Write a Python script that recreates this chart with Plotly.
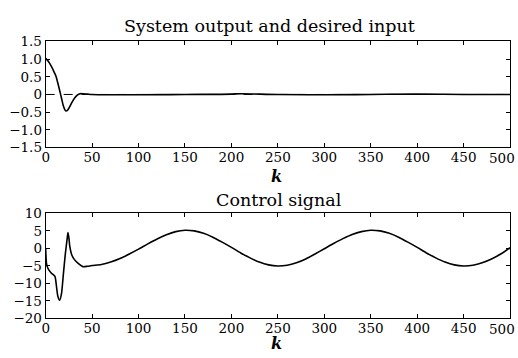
import plotly.graph_objects as go

# ---- data ----
k_out = [0, 3, 6, 9, 11, 13, 15, 17, 19, 21, 22, 24, 26, 28, 31, 34, 37, 40, 45, 50,
         100, 150, 200, 210, 250, 300, 350, 400, 450, 500]
y_out = [1.02, 0.93, 0.80, 0.64, 0.52, 0.33, 0.12, -0.10, -0.32, -0.45, -0.47, -0.43, -0.34,
         -0.24, -0.11, -0.02, 0.02, 0.02, 0.01, 0.0,
         -0.01, 0.0, 0.01, 0.02, 0.0, -0.01, 0.0, 0.01, 0.0, 0.0]

k_ref = [0, 500]
y_ref = [0, 0]

k_u = [0, 1, 3, 6, 10, 11, 13, 15, 17, 19, 21, 23, 24, 25, 26, 28, 31, 35, 40, 45, 50,
       60, 70, 80, 90, 100, 110, 120, 130, 140, 150, 160, 170, 180, 190, 200,
       210, 220, 230, 240, 250, 260, 270, 280, 290, 300,
       310, 320, 330, 340, 350, 360, 370, 380, 390, 400,
       410, 420, 430, 440, 450, 460, 470, 480, 490, 500]
u = [0.0, -4.5, -6.0, -7.0, -8.0, -9.5, -13.5, -14.8, -13.0, -7.5, -2.0, 2.5, 4.5, 3.0, 0.5,
     -1.8, -3.2, -4.3, -5.2, -5.1, -4.9,
     -4.6, -3.9, -2.9, -1.6, -0.2, 1.3, 2.7, 3.9, 4.8, 5.2, 5.0, 4.3, 3.2, 1.8, 0.3,
     -1.3, -2.7, -3.9, -4.7, -5.0, -4.8, -4.1, -3.0, -1.6, -0.1,
     1.4, 2.8, 4.0, 4.8, 5.2, 5.0, 4.3, 3.2, 1.8, 0.3,
     -1.3, -2.7, -3.9, -4.7, -5.0, -4.8, -4.1, -3.0, -1.6, 0.2]

x_ticks = list(range(0, 501, 50))
x_labels = [str(v) for v in x_ticks]
y1_ticks = [-1.5, -1.0, -0.5, 0, 0.5, 1.0, 1.5]
y1_labels = ["\u22121.5", "\u22121.0", "\u22120.5", "0", "0.5", "1.0", "1.5"]
y2_ticks = [-20, -15, -10, -5, 0, 5, 10]
y2_labels = ["\u221220", "\u221215", "\u221210", "\u22125", "0", "5", "10"]

title1 = "System output and desired input"
title2 = "Control signal"
xlabel = "k"

FONT = "DejaVu Serif"
W, H = 518, 358

fig = go.Figure()
fig.add_trace(go.Scatter(x=k_ref, y=y_ref, mode="lines",
                         line=dict(color="black", width=1, dash="dash"),
                         xaxis="x", yaxis="y", showlegend=False))
fig.add_trace(go.Scatter(x=k_out, y=y_out, mode="lines", line_shape="spline",
                         line=dict(color="black", width=1.6),
                         xaxis="x", yaxis="y", showlegend=False))
fig.add_trace(go.Scatter(x=k_u, y=u, mode="lines", line_shape="spline",
                         line=dict(color="black", width=1.6, smoothing=0.6),
                         xaxis="x2", yaxis="y2", showlegend=False))

def px_x(p):
    return p / W

def px_y(p):
    return 1 - p / H

TICKFONT = dict(family=FONT, size=13.5, color="black")
axis_common = dict(showgrid=False, zeroline=False, showline=True, linecolor="black",
                   linewidth=1, mirror="ticks", ticks="inside", ticklen=4,
                   tickcolor="black", tickfont=TICKFONT)

xdom = [px_x(42), px_x(510)]
# last x tick label would overflow the page: draw it right-aligned to the page edge
x_inner_labels = x_labels[:-1] + [""]

annotations = [
    dict(text=title1, x=px_x(268), y=px_y(19), xref="paper", yref="paper",
         showarrow=False, font=dict(family=FONT, size=17.5, color="black"),
         xanchor="center", yanchor="middle"),
    dict(text=title2, x=px_x(277), y=px_y(201), xref="paper", yref="paper",
         showarrow=False, font=dict(family=FONT, size=17.5, color="black"),
         xanchor="center", yanchor="middle"),
    dict(text="<b><i>" + xlabel + "</i></b>", x=px_x(275), y=px_y(176), xref="paper",
         yref="paper", showarrow=False, font=dict(family=FONT, size=16, color="black"),
         xanchor="center", yanchor="middle"),
    dict(text="<b><i>" + xlabel + "</i></b>", x=px_x(275), y=0, xref="paper",
         yref="paper", showarrow=False, font=dict(family=FONT, size=16, color="black"),
         xanchor="center", yanchor="bottom", yshift=-4, borderpad=0),
]
for ya in ("y domain", "y2 domain"):
    annotations.append(dict(text=x_labels[-1], x=1, y=0, xref="paper", yref=ya,
                            showarrow=False, font=TICKFONT, xanchor="right",
                            yanchor="top", xshift=-1, yshift=-1))

fig.update_layout(
    width=W, height=H,
    margin=dict(l=0, r=0, t=0, b=0),
    paper_bgcolor="white", plot_bgcolor="white",
    xaxis=dict(domain=xdom, range=[0, 500], tickvals=x_ticks, ticktext=x_inner_labels,
               ticklabelstandoff=-3, anchor="y", **axis_common),
    yaxis=dict(domain=[px_y(146), px_y(35)], range=[-1.5, 1.5], tickvals=y1_ticks,
               ticktext=y1_labels, anchor="x", **axis_common),
    xaxis2=dict(domain=xdom, range=[0, 500], tickvals=x_ticks, ticktext=x_inner_labels,
                ticklabelstandoff=-3, anchor="y2", **axis_common),
    yaxis2=dict(domain=[px_y(325), px_y(215)], range=[-20, 10], tickvals=y2_ticks,
                ticktext=y2_labels, anchor="x2", **axis_common),
    annotations=annotations,
)

fig.write_html("out.html")
